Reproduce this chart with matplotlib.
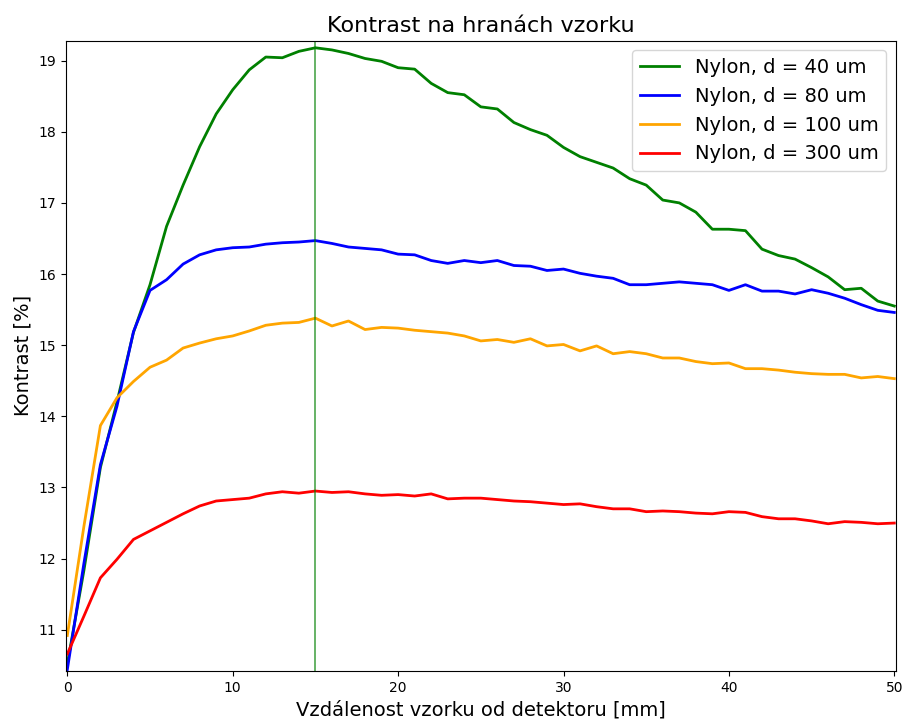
import matplotlib
matplotlib.use("Agg")
import matplotlib.pyplot as plt
import numpy as np

x = list(range(0, 51))

green_40 = [10.52, 11.83, 13.28, 14.20, 15.18, 15.85, 16.67, 17.25, 17.79, 18.25,
            18.59, 18.87, 19.05, 19.04, 19.13, 19.18, 19.15, 19.10, 19.03, 18.99,
            18.90, 18.88, 18.68, 18.55, 18.52, 18.35, 18.32, 18.13, 18.03, 17.95,
            17.78, 17.65, 17.57, 17.49, 17.34, 17.25, 17.04, 17.00, 16.87, 16.63,
            16.63, 16.61, 16.35, 16.26, 16.21, 16.09, 15.96, 15.78, 15.80, 15.62,
            15.55]

blue_80 = [10.44, 11.93, 13.32, 14.14, 15.19, 15.77, 15.92, 16.14, 16.27, 16.34,
           16.37, 16.38, 16.42, 16.44, 16.45, 16.47, 16.43, 16.38, 16.36, 16.34,
           16.28, 16.27, 16.19, 16.15, 16.19, 16.16, 16.19, 16.12, 16.11, 16.05,
           16.07, 16.01, 15.97, 15.94, 15.85, 15.85, 15.87, 15.89, 15.87, 15.85,
           15.77, 15.85, 15.76, 15.76, 15.72, 15.78, 15.73, 15.66, 15.57, 15.49,
           15.46]

orange_100 = [10.92, 12.45, 13.87, 14.26, 14.49, 14.69, 14.79, 14.96, 15.03, 15.09,
              15.13, 15.20, 15.28, 15.31, 15.32, 15.38, 15.27, 15.34, 15.22, 15.25,
              15.24, 15.21, 15.19, 15.17, 15.13, 15.06, 15.08, 15.04, 15.09, 14.99,
              15.01, 14.92, 14.99, 14.88, 14.91, 14.88, 14.82, 14.82, 14.77, 14.74,
              14.75, 14.67, 14.67, 14.65, 14.62, 14.60, 14.59, 14.59, 14.54, 14.56,
              14.53]

red_300 = [10.66, 11.19, 11.73, 11.99, 12.27, 12.39, 12.51, 12.63, 12.74, 12.81,
           12.83, 12.85, 12.91, 12.94, 12.92, 12.95, 12.93, 12.94, 12.91, 12.89,
           12.90, 12.88, 12.91, 12.84, 12.85, 12.85, 12.83, 12.81, 12.80, 12.78,
           12.76, 12.77, 12.73, 12.70, 12.70, 12.66, 12.67, 12.66, 12.64, 12.63,
           12.66, 12.65, 12.59, 12.56, 12.56, 12.53, 12.49, 12.52, 12.51, 12.49,
           12.50]

labels = ["Nylon, d = 40 um", "Nylon, d = 80 um", "Nylon, d = 100 um", "Nylon, d = 300 um"]
colors = ["green", "blue", "orange", "red"]
series = [green_40, blue_80, orange_100, red_300]
vline_x = 15

fig = plt.figure(figsize=(9.02, 7.2), dpi=100)
ax = fig.add_axes([0.0728, 0.068, 0.9205, 0.8755])

for ys, c, lab in zip(series, colors, labels):
    ax.plot(x, ys, color=c, lw=2, label=lab)

ax.axvline(vline_x, color="green", lw=1.2, alpha=0.7)

ax.set_xlim(-0.1, 50.1)
ax.set_ylim(10.42, 19.28)
ax.set_xticks([0, 10, 20, 30, 40, 50])
ax.set_yticks([11, 12, 13, 14, 15, 16, 17, 18, 19])
ax.tick_params(labelsize=10)

ax.set_title("Kontrast na hranách vzorku", fontsize=16)
ax.set_xlabel("Vzdálenost vzorku od detektoru [mm]", fontsize=14)
ax.set_ylabel("Kontrast [%]", fontsize=14)
ax.legend(loc="upper right", fontsize=14)

fig.savefig("out.png", dpi=100)
